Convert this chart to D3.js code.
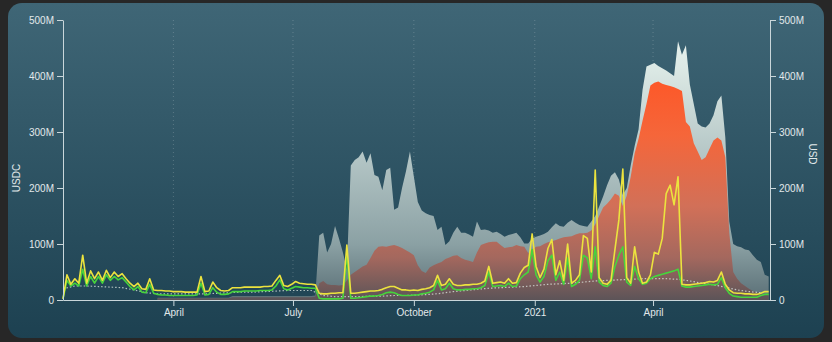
<!DOCTYPE html>
<html>
<head>
<meta charset="utf-8">
<script src="https://cdn.jsdelivr.net/npm/d3@7"></script>
<style>
  html, body { margin: 0; background: #272727; }
  svg { display: block; font-family: "Liberation Sans", Arial, Helvetica, sans-serif; }
</style>
</head>
<body>
<svg id="chart" width="832" height="342"></svg>
<script>
// Daily volume series, sampled every 3 days from the start date (millions)
const seriesStart = "2020-01-08";
const stepDays = 3;

const yellowM = [
  2, 45, 28, 38, 30, 80, 30, 52, 38, 50,
  35, 53, 40, 50, 42, 47, 38, 30, 24, 30,
  20, 19, 38, 18, 17, 17, 16, 16, 15, 15,
  15, 14, 14, 14, 14, 42, 15, 16, 32, 22,
  17, 16, 17, 22, 22, 22, 23, 23, 23, 23,
  23, 24, 24, 25, 35, 44, 26, 24, 28, 33,
  30, 29, 28, 28, 27, 12, 11, 11, 12, 12,
  13, 13, 98, 12, 12, 13, 14, 15, 16, 16,
  17, 19, 22, 24, 24, 21, 18, 18, 17, 18,
  17, 19, 20, 22, 26, 44, 26, 28, 38, 28,
  26, 26, 27, 27, 28, 28, 30, 34, 60, 30,
  31, 32, 30, 38, 30, 31, 48, 58, 62, 118,
  60, 40, 55, 92, 108, 45, 70, 35, 100, 30,
  35, 45, 115, 110, 50, 232, 40, 30, 28, 35,
  90, 143, 234, 40, 30, 95, 50, 30, 32, 45,
  85, 82, 110, 190, 205, 170, 220, 28, 27, 27,
  28, 29, 30, 31, 33, 32, 35, 50, 28, 18,
  13, 12, 12, 11, 11, 10, 10, 12, 15, 15
];

const greenM = [
  2, 35, 25, 30, 25, 55, 25, 42, 30, 42,
  30, 45, 35, 42, 36, 40, 32, 24, 18, 24,
  14, 13, 28, 12, 10, 9, 9, 8, 8, 8,
  8, 8, 8, 8, 9, 30, 9, 10, 22, 14,
  10, 10, 11, 15, 15, 15, 16, 16, 16, 16,
  17, 17, 17, 18, 25, 36, 20, 18, 21, 24,
  23, 22, 22, 21, 21, 3, 2, 2, 2, 2,
  2, 3, 80, 3, 3, 4, 5, 6, 7, 7,
  8, 10, 13, 14, 13, 10, 8, 8, 8, 9,
  9, 11, 12, 14, 18, 35, 18, 20, 30, 20,
  18, 18, 19, 19, 20, 20, 22, 26, 50, 24,
  25, 26, 24, 30, 24, 25, 38, 45, 50, 90,
  45, 32, 42, 70, 80, 35, 50, 28, 75, 24,
  28, 35, 80, 75, 38, 95, 32, 26, 24, 30,
  60, 80, 95, 32, 26, 60, 38, 28, 30, 38,
  42, 44, 46, 48, 50, 52, 55, 25, 23, 23,
  24, 25, 26, 27, 28, 27, 28, 40, 22, 12,
  7, 6, 5, 5, 5, 5, 5, 8, 10, 10
];

// Liquidity areas (USD, millions), same 3-day step, starting later
const areaStart = "2020-03-20";

const totalUsdM = [
  4, 4, 4, 4, 4, 4, 4, 4, 4, 4, 4, 4, 4, 4, 4, 4, 4, 4, 4,
  7, 7, 7, 7, 7, 7, 7, 7, 7, 7, 7, 7, 7, 7, 7, 7, 7, 7, 7, 7, 7,
  8,
  115, 120, 85, 100, 132,
  110, 85, 55, 240, 250, 255, 265, 245, 262, 223,
  220, 196, 232, 236, 161, 165, 200, 230, 265, 220,
  175, 160, 155, 152, 150, 125, 131, 98, 105, 120,
  131, 120, 120, 117, 113, 140, 125, 126, 124, 120,
  122, 118, 113, 116, 118, 120, 112, 101, 101, 110,
  113, 115, 118, 122, 130, 137, 132, 131, 138, 143,
  138, 134, 132, 131, 140, 150, 167, 185, 205, 222,
  228, 215, 188, 200, 240, 275, 305, 375, 417, 420,
  423, 418, 414, 410, 405, 400, 462, 438, 455, 385,
  350, 315, 310, 308, 315, 330, 355, 365, 290, 140,
  100, 96, 94, 90, 89, 80, 72, 68, 45, 42
];

const usdcUsdM = [
  3, 3, 3, 3, 3, 3, 3, 3, 3, 3, 3, 3, 3, 3, 3, 3, 3, 3, 3,
  5, 5, 5, 5, 5, 5, 5, 5, 5, 5, 5, 5, 5, 5, 5, 5, 5, 5, 5, 5, 5,
  6,
  30, 34, 28, 27, 27,
  26, 27, 35, 45, 50, 55, 60, 63, 75, 88,
  95, 96, 95, 97, 98, 96, 93, 89, 85, 80,
  62, 52, 48, 58, 62, 65, 68, 73, 76, 79,
  80, 75, 72, 70, 68, 85, 98, 101, 103, 104,
  104, 98, 93, 94, 95, 98, 96, 95, 84, 90,
  95, 96, 100, 103, 105, 107, 110, 112, 113, 114,
  117, 119, 119, 120, 124, 135, 150, 165, 172, 180,
  190, 186, 168, 186, 220, 262, 288, 320, 350, 383,
  388, 390, 386, 384, 382, 380, 377, 373, 318, 310,
  280, 265, 250, 255, 270, 285, 290, 285, 255, 120,
  50, 38, 30, 25, 20, 16, 14, 12, 10, 9
];

// Smoothed average, every 9 days from the series start
const avgStepDays = 9;
const averageM = [
  20, 25, 25, 24, 23, 22, 18, 13, 11, 11,
  11, 11, 11, 12, 13, 14, 14, 15, 16, 17,
  17, 17, 8, 6, 6, 6, 7, 7, 8, 8,
  9, 10, 12, 15, 17, 19, 21, 22, 23, 24,
  26, 28, 29, 30, 32, 34, 35, 36, 37, 38,
  38, 38, 37, 34, 30, 27, 23, 18, 15, 13
];

const yTicks = [0, 100, 200, 300, 400, 500];
const xTickDates = ["2020-04-01", "2020-07-01", "2020-10-01", "2021-01-01", "2021-04-01"];
const xTickLabels = ["April", "July", "October", "2021", "April"];
const domainEnd = "2021-06-29";

const parse = d3.utcParse("%Y-%m-%d");
const svg = d3.select("#chart");

const defs = svg.append("defs");
const bg = defs.append("linearGradient").attr("id", "panelBg")
  .attr("x1", 0).attr("y1", 0).attr("x2", 0).attr("y2", 1);
bg.append("stop").attr("offset", "0%").attr("stop-color", "#3f6676");
bg.append("stop").attr("offset", "100%").attr("stop-color", "#1d4151");

const plot = { left: 63, right: 770, top: 20, bottom: 300 };

const x = d3.scaleUtc()
  .domain([parse(seriesStart), parse(domainEnd)])
  .range([plot.left, plot.right]);
const y = d3.scaleLinear().domain([0, 500]).range([plot.bottom, plot.top]);

const greyGrad = defs.append("linearGradient").attr("id", "greyFill")
  .attr("gradientUnits", "userSpaceOnUse")
  .attr("x1", 0).attr("x2", 0).attr("y1", y(500)).attr("y2", y(0));
[["0", "#eef6f2"], ["0.18", "#dbe8e4"], ["0.5", "#b2c4c4"], ["0.8", "#8ba1a4"], ["1", "#5a6f76"]]
  .forEach(([o, c]) => greyGrad.append("stop").attr("offset", o).attr("stop-color", c));

const orangeGrad = defs.append("linearGradient").attr("id", "orangeFill")
  .attr("gradientUnits", "userSpaceOnUse")
  .attr("x1", 0).attr("x2", 0).attr("y1", y(420)).attr("y2", y(0));
[["0", "#ff5424"], ["0.3", "#f5663a"], ["0.6", "#d27058"], ["0.82", "#a4685e"], ["1", "#5c5458"]]
  .forEach(([o, c]) => orangeGrad.append("stop").attr("offset", o).attr("stop-color", c));

// panel
svg.append("rect").attr("x", 8).attr("y", 3).attr("width", 816).attr("height", 335)
  .attr("rx", 14).attr("fill", "url(#panelBg)");

// vertical dotted gridlines at month ticks
const tickDates = xTickDates.map(parse);
svg.append("g").selectAll("line").data(tickDates).join("line")
  .attr("x1", d => x(d)).attr("x2", d => x(d))
  .attr("y1", y(500)).attr("y2", y(0))
  .attr("stroke", "rgba(255,255,255,0.2)")
  .attr("stroke-dasharray", "1,3");

function stepped(values, startStr, step) {
  const s = parse(startStr);
  return values.map((v, i) => ({ date: d3.utcDay.offset(s, i * step), v }));
}

const areaGen = d3.area().x(d => x(d.date)).y0(y(0)).y1(d => y(d.v));
const lineGen = d3.line().x(d => x(d.date)).y(d => y(d.v));

svg.append("path").datum(stepped(totalUsdM, areaStart, stepDays))
  .attr("d", areaGen).attr("fill", "url(#greyFill)");
svg.append("path").datum(stepped(usdcUsdM, areaStart, stepDays))
  .attr("d", areaGen).attr("fill", "url(#orangeFill)");

svg.append("path").datum(stepped(averageM, seriesStart, avgStepDays))
  .attr("d", lineGen).attr("fill", "none")
  .attr("stroke", "rgba(225,235,228,0.75)").attr("stroke-width", 1.2)
  .attr("stroke-dasharray", "1.5,2");

svg.append("path").datum(stepped(greenM, seriesStart, stepDays))
  .attr("d", lineGen).attr("fill", "none")
  .attr("stroke", "#46d43c").attr("stroke-width", 1.6).attr("stroke-linejoin", "round");

svg.append("path").datum(stepped(yellowM, seriesStart, stepDays))
  .attr("d", lineGen).attr("fill", "none")
  .attr("stroke", "#ece33e").attr("stroke-width", 1.6).attr("stroke-linejoin", "round");

// axes
const fmt = d => d === 0 ? "0" : d + "M";
function styleAxis(g) {
  g.selectAll(".domain").attr("stroke", "#c9d6da");
  g.selectAll(".tick line").attr("stroke", "#c9d6da");
  g.selectAll(".tick text").attr("fill", "#e2e9eb").attr("font-size", 10);
}

svg.append("g").attr("transform", `translate(${plot.left},0)`)
  .call(d3.axisLeft(y).tickValues(yTicks).tickFormat(fmt).tickSize(6).tickSizeOuter(0))
  .call(styleAxis);

svg.append("g").attr("transform", `translate(${plot.right},0)`)
  .call(d3.axisRight(y).tickValues(yTicks).tickFormat(fmt).tickSize(6).tickSizeOuter(0))
  .call(styleAxis);

svg.append("g").attr("transform", `translate(0,${plot.bottom})`)
  .call(d3.axisBottom(x).tickValues(tickDates)
    .tickFormat((d, i) => xTickLabels[i]).tickSize(6).tickSizeOuter(0))
  .call(styleAxis);

svg.append("text").attr("transform", "translate(20,178) rotate(-90)")
  .attr("text-anchor", "middle").attr("fill", "#e2e9eb").attr("font-size", 10)
  .text("USDC");
svg.append("text").attr("transform", "translate(809,154) rotate(90)")
  .attr("text-anchor", "middle").attr("fill", "#e2e9eb").attr("font-size", 10)
  .text("USD");
</script>
</body>
</html>
